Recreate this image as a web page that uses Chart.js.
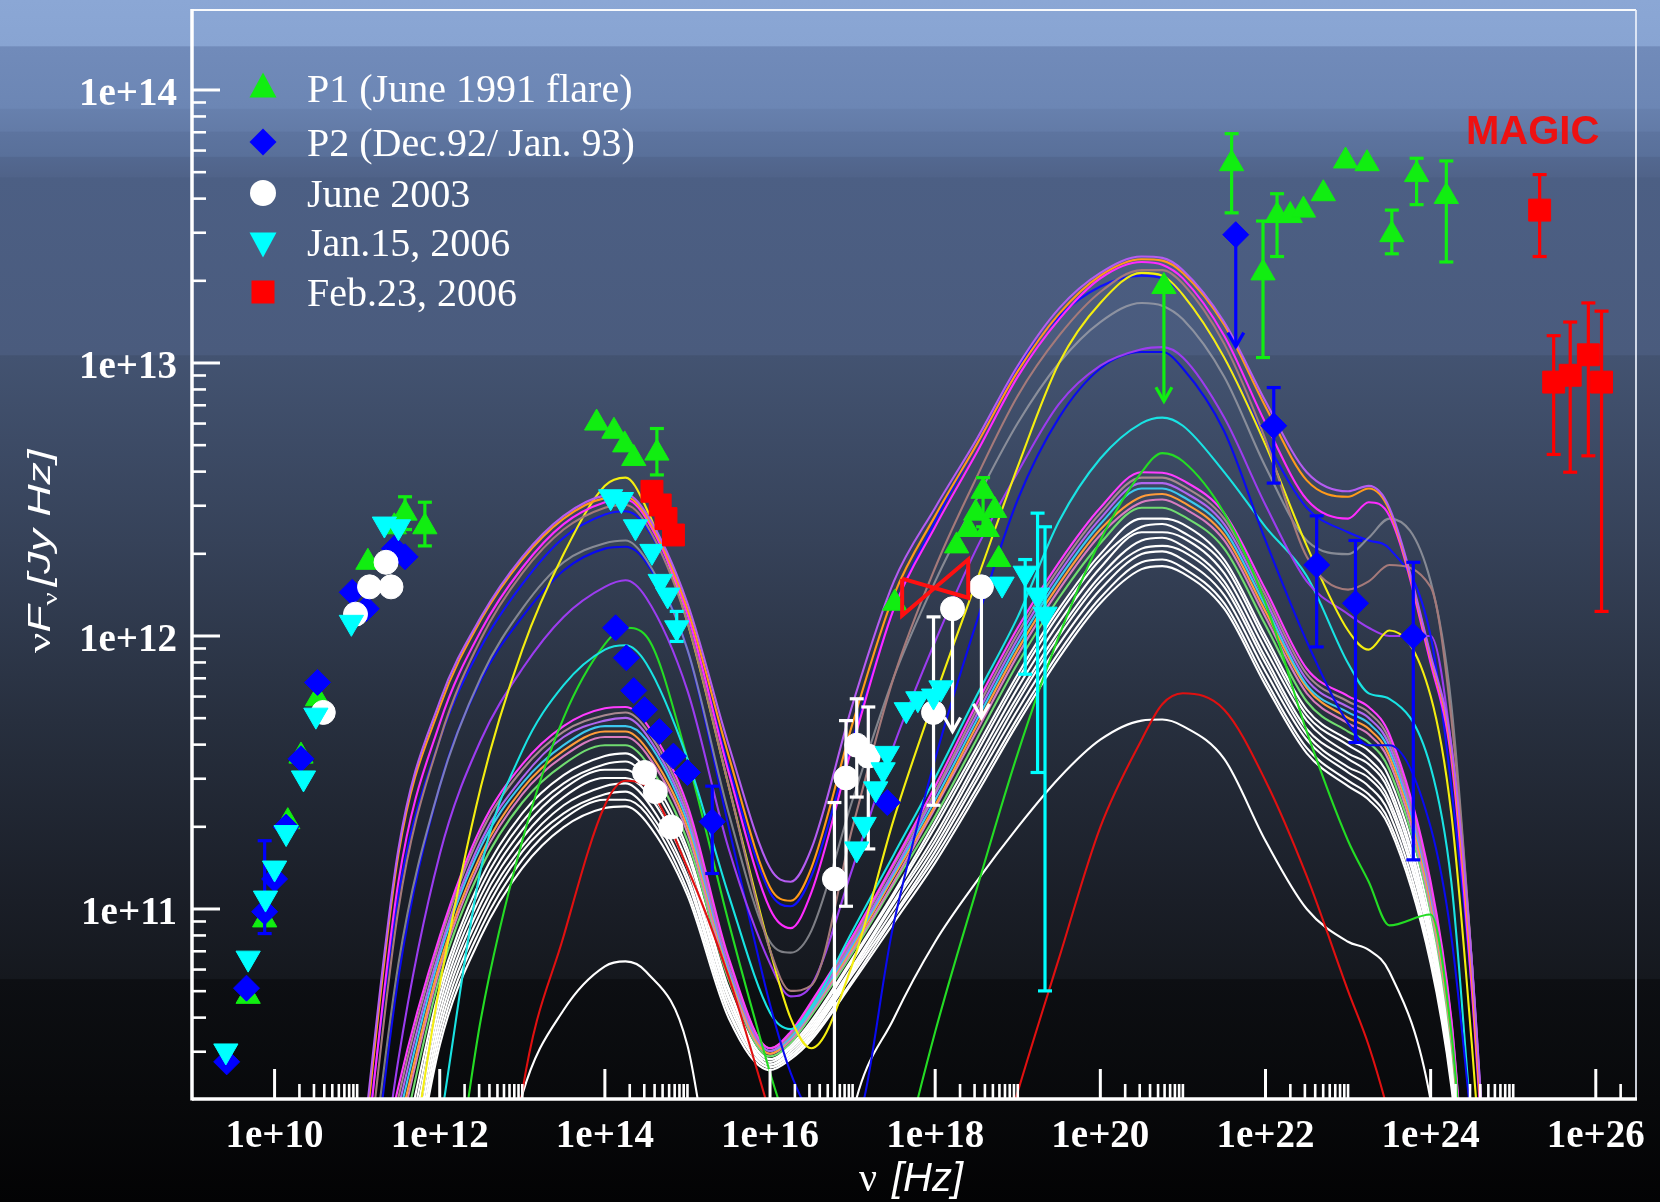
<!DOCTYPE html>
<html>
<head>
<meta charset="utf-8">
<script src="https://cdn.jsdelivr.net/npm/chart.js@4/dist/chart.umd.min.js"></script>
<style>
  html, body { margin: 0; padding: 0; background: #000; }
  canvas { display: block; }
</style>
</head>
<body>
<canvas id="sed" width="1660" height="1202"></canvas>
<script>
// ---------------------------------------------------------------------------
// Axis ticks (decades that carry a label)
const xTickExp = [10, 12, 14, 16, 18, 20, 22, 24, 26];
const yTickExp = [11, 12, 13, 14];
const xRangeLog = [9.0, 26.487];
const yRangeLog = [10.304, 14.293];

// ---------------------------------------------------------------------------
// Model SED curves: log10(nu) grid and log10(nu F_nu) for each model
const logNuGrid = [11.0, 11.5, 12.0, 12.5, 13.0, 13.5, 14.0, 14.25, 14.5, 15.0,
  15.5, 16.0, 16.25, 16.5, 17.0, 17.5, 18.0, 18.5, 19.0, 19.5,
  20.0, 20.5, 20.75, 21.0, 21.5, 22.0, 22.5, 23.0, 23.25, 23.5,
  24.0, 24.25, 24.5, 24.75];

const modelPurpleTop = [9.95, 11.22, 11.76, 12.07, 12.29, 12.44, 12.515, 12.52, 12.45, 12.12,
  11.6, 11.15, 11.1, 11.22, 11.75, 12.2, 12.47, 12.72, 12.99, 13.2,
  13.33, 13.39, 13.385, 13.34, 13.15, 12.86, 12.6, 12.53, 12.55, 12.47,
  11.93, 11.6, 10.8, 9.6];
const modelOrange = [9.9, 11.2, 11.74, 12.06, 12.28, 12.43, 12.505, 12.51, 12.44, 12.1,
  11.56, 11.08, 11.03, 11.15, 11.68, 12.15, 12.44, 12.7, 12.97, 13.18,
  13.32, 13.38, 13.375, 13.33, 13.14, 12.84, 12.57, 12.51, 12.54, 12.46,
  11.92, 11.58, 10.75, 9.6];
const modelMagenta = [9.8, 11.1, 11.68, 12.02, 12.25, 12.41, 12.49, 12.5, 12.43, 12.08,
  11.5, 11.0, 10.93, 11.06, 11.6, 12.1, 12.4, 12.67, 12.95, 13.16,
  13.31, 13.37, 13.36, 13.31, 13.1, 12.78, 12.5, 12.43, 12.49, 12.44,
  11.9, 11.55, 10.7, 9.6];
const modelBrown = [9.7, 11.0, 11.62, 11.99, 12.23, 12.39, 12.47, 12.48, 12.41, 12.05,
  11.45, 10.85, 10.7, 10.72, 11.3, 11.85, 12.25, 12.58, 12.88, 13.1,
  13.26, 13.34, 13.34, 13.29, 13.07, 12.72, 12.29, 12.17, 12.2, 12.26,
  12.18, 11.7, 10.8, 9.6];
const modelGray = [9.6, 10.8, 11.45, 11.85, 12.1, 12.27, 12.34, 12.35, 12.28, 11.95,
  11.35, 10.88, 10.84, 10.92, 11.4, 11.85, 12.2, 12.5, 12.78, 13.0,
  13.15, 13.22, 13.21, 13.16, 12.95, 12.62, 12.35, 12.3, 12.36, 12.43,
  12.2, 11.75, 10.8, 9.6];
const modelYellow = [9.3, 9.8, 10.72, 11.45, 11.95, 12.3, 12.55, 12.58, 12.47, 12.05,
  11.45, 10.85, 10.6, 10.49, 10.8, 11.33, 11.78, 12.2, 12.62, 13.0,
  13.22, 13.33, 13.32, 13.25, 13.02, 12.7, 12.33, 12.02, 11.95, 12.02,
  11.78, 11.35, 10.5, 9.5];
const modelBlueA = [9.85, 11.05, 11.62, 11.96, 12.19, 12.36, 12.445, 12.457, 12.4, 12.07,
  11.52, 11.06, 11.01, 11.12, 11.62, 12.1, 12.42, 12.7, 12.98, 13.17,
  13.28, 13.32, 13.31, 13.25, 13.02, 12.72, 12.47, 12.38, 12.35, 12.32,
  12.0, 11.45, 10.7, 9.6];
const modelBlueB = [9.5, 10.75, 11.45, 11.84, 12.07, 12.24, 12.32, 12.327, 12.27, 11.95,
  11.3, 10.65, 10.4, 10.25, 10.2, 10.95, 11.55, 12.05, 12.5, 12.8,
  12.98, 13.04, 13.04, 12.98, 12.75, 12.35, 11.98, 11.68, 11.6, 11.6,
  11.3, 10.9, 10.2, 9.5];
const modelPurpleMid = [9.3, 10.45, 11.2, 11.62, 11.88, 12.07, 12.18, 12.204, 12.14, 11.8,
  11.22, 10.8, 10.68, 10.72, 11.15, 11.6, 11.98, 12.32, 12.6, 12.85,
  12.99, 13.05, 13.058, 13.02, 12.8, 12.48, 12.2, 12.08, 12.03, 12.0,
  12.0, 11.6, 10.8, 9.6];
const modelCyan = [9.0, 9.3, 10.2, 11.15, 11.58, 11.82, 11.95, 11.966, 11.9, 11.55,
  11.05, 10.62, 10.56, 10.64, 10.92, 11.2, 11.48, 11.78, 12.07, 12.42,
  12.65, 12.78, 12.8, 12.77, 12.6, 12.4, 12.22, 11.9, 11.79, 11.77,
  11.52, 11.1, 10.2, 9.5];
const modelGreen = [9.0, 9.0, 9.6, 10.6, 11.25, 11.7, 11.97, 12.03, 12.0, 11.55,
  10.95, 10.4, 10.15, 9.8, 9.3, 9.95, 10.55, 11.07, 11.57, 12.0,
  12.35, 12.6, 12.67, 12.64, 12.45, 12.12, 11.65, 11.25, 11.1, 10.94,
  10.98, 10.55, 9.7, 9.3];
const modelRed = [9.0, 9.0, 9.0, 9.0, 10.33, 10.9, 11.38, 11.47, 11.45, 11.15,
  10.75, 10.25, 10.0, 9.7, 9.3, 9.0, 9.2, 9.8, 10.33, 10.82,
  11.3, 11.62, 11.75, 11.79, 11.73, 11.47, 11.12, 10.7, 10.5, 10.24,
  9.6, 9.3, 9.0, 9.0];
const modelLowWhite = [9.0, 9.0, 9.0, 9.6, 10.32, 10.63, 10.79, 10.808, 10.77, 10.5,
  9.6, 9.3, 9.3, 9.3, 10.25, 10.6, 10.88, 11.1, 11.3, 11.48,
  11.62, 11.69, 11.694, 11.67, 11.55, 11.25, 11.0, 10.88, 10.85, 10.77,
  10.3, 9.7, 9.3, 9.0];

// the low-state family of models
const lowTop = [9.6, 10.35, 10.9, 11.3, 11.53, 11.67, 11.735, 11.74, 11.68, 11.38,
  10.82, 10.49, 10.55, 10.66, 10.9, 11.17, 11.45, 11.75, 12.03, 12.27,
  12.47, 12.6, 12.598, 12.57, 12.45, 12.17, 11.88, 11.78, 11.74, 11.64,
  11.1, 10.6, 9.7, 9.3];
const low01 = [9.5, 10.31, 10.88, 11.28, 11.51, 11.65, 11.71, 11.72, 11.66, 11.36,
  10.81, 10.49, 10.54, 10.65, 10.89, 11.16, 11.43, 11.73, 12.01, 12.25,
  12.45, 12.58, 12.58, 12.55, 12.43, 12.15, 11.86, 11.76, 11.72, 11.62,
  11.08, 10.59, 9.7, 9.3];
const low02 = [9.5, 10.27, 10.85, 11.25, 11.48, 11.63, 11.69, 11.70, 11.64, 11.34,
  10.79, 10.48, 10.54, 10.64, 10.88, 11.14, 11.42, 11.71, 11.99, 12.23,
  12.43, 12.56, 12.56, 12.53, 12.41, 12.13, 11.84, 11.74, 11.70, 11.60,
  11.06, 10.57, 9.7, 9.3];
const low03 = [9.5, 10.23, 10.83, 11.23, 11.46, 11.60, 11.67, 11.67, 11.62, 11.32,
  10.78, 10.48, 10.53, 10.63, 10.87, 11.13, 11.40, 11.69, 11.97, 12.21,
  12.41, 12.54, 12.54, 12.51, 12.39, 12.11, 11.82, 11.72, 11.68, 11.58,
  11.05, 10.56, 9.7, 9.3];
const low04 = [9.5, 10.19, 10.80, 11.20, 11.44, 11.58, 11.65, 11.65, 11.59, 11.30,
  10.77, 10.47, 10.53, 10.63, 10.86, 11.12, 11.38, 11.67, 11.95, 12.19,
  12.39, 12.51, 12.52, 12.49, 12.37, 12.09, 11.81, 11.70, 11.66, 11.56,
  11.03, 10.54, 9.7, 9.3];
const low05 = [9.5, 10.16, 10.78, 11.18, 11.42, 11.56, 11.63, 11.63, 11.57, 11.28,
  10.75, 10.47, 10.52, 10.62, 10.85, 11.10, 11.37, 11.65, 11.93, 12.17,
  12.37, 12.49, 12.50, 12.47, 12.35, 12.07, 11.79, 11.68, 11.64, 11.54,
  11.01, 10.53, 9.7, 9.3];
const low06 = [9.5, 10.10, 10.75, 11.15, 11.39, 11.53, 11.60, 11.60, 11.54, 11.25,
  10.74, 10.46, 10.51, 10.61, 10.84, 11.09, 11.34, 11.62, 11.90, 12.14,
  12.34, 12.47, 12.47, 12.44, 12.32, 12.04, 11.76, 11.65, 11.61, 11.51,
  10.99, 10.51, 9.7, 9.3];
const lowW1 = [9.5, 10.04, 10.71, 11.11, 11.35, 11.49, 11.56, 11.57, 11.51, 11.22,
  10.71, 10.45, 10.50, 10.59, 10.82, 11.06, 11.32, 11.59, 11.86, 12.10,
  12.30, 12.43, 12.43, 12.41, 12.28, 12.00, 11.73, 11.62, 11.58, 11.48,
  10.96, 10.48, 9.7, 9.3];
const lowW2 = [9.5, 9.99, 10.68, 11.08, 11.32, 11.46, 11.53, 11.54, 11.48, 11.20,
  10.70, 10.45, 10.49, 10.58, 10.81, 11.05, 11.30, 11.57, 11.84, 12.08,
  12.28, 12.40, 12.41, 12.38, 12.26, 11.98, 11.71, 11.60, 11.55, 11.45,
  10.93, 10.46, 9.7, 9.3];
const lowW3 = [9.5, 9.94, 10.65, 11.05, 11.29, 11.44, 11.51, 11.51, 11.45, 11.17,
  10.68, 10.44, 10.49, 10.57, 10.79, 11.03, 11.27, 11.54, 11.81, 12.05,
  12.25, 12.38, 12.38, 12.36, 12.23, 11.95, 11.69, 11.57, 11.53, 11.43,
  10.91, 10.44, 9.7, 9.3];
const lowW4 = [9.5, 9.89, 10.62, 11.02, 11.26, 11.41, 11.48, 11.48, 11.43, 11.15,
  10.67, 10.43, 10.48, 10.56, 10.78, 11.02, 11.25, 11.52, 11.78, 12.02,
  12.22, 12.35, 12.36, 12.33, 12.20, 11.92, 11.66, 11.55, 11.50, 11.40,
  10.89, 10.42, 9.7, 9.3];
const lowW5 = [9.5, 9.84, 10.59, 10.99, 11.23, 11.38, 11.45, 11.46, 11.40, 11.12,
  10.65, 10.43, 10.47, 10.55, 10.77, 11.00, 11.23, 11.49, 11.76, 12.00,
  12.20, 12.32, 12.33, 12.31, 12.18, 11.90, 11.64, 11.52, 11.48, 11.38,
  10.87, 10.41, 9.7, 9.3];
const lowW6 = [9.5, 9.79, 10.56, 10.96, 11.21, 11.35, 11.42, 11.43, 11.37, 11.10,
  10.63, 10.42, 10.46, 10.54, 10.76, 10.98, 11.21, 11.47, 11.73, 11.97,
  12.17, 12.30, 12.31, 12.28, 12.15, 11.87, 11.62, 11.50, 11.45, 11.35,
  10.84, 10.39, 9.7, 9.3];
const lowW7 = [9.5, 9.75, 10.53, 10.93, 11.18, 11.33, 11.40, 11.40, 11.35, 11.07,
  10.62, 10.42, 10.46, 10.53, 10.74, 10.97, 11.19, 11.44, 11.70, 11.94,
  12.14, 12.27, 12.28, 12.25, 12.12, 11.84, 11.59, 11.47, 11.42, 11.32,
  10.82, 10.37, 9.7, 9.3];
const lowBottom = [9.0, 9.7, 10.5, 10.9, 11.15, 11.3, 11.37, 11.376, 11.32, 11.05,
  10.6, 10.41, 10.45, 10.52, 10.73, 10.95, 11.17, 11.42, 11.68, 11.92,
  12.12, 12.245, 12.256, 12.23, 12.1, 11.82, 11.57, 11.45, 11.4, 11.3,
  10.8, 10.35, 9.6, 9.3];

// ---------------------------------------------------------------------------
// Observations, log10(nu / Hz) and log10(nu F_nu / Jy Hz)
// P1 (June 1991 flare)
const p1LogNu = [9.68, 9.88, 10.16, 10.32, 10.52, 11.13, 11.45, 11.58, 11.82, 13.90,
  14.11, 14.24, 14.35, 14.63, 17.51, 18.26, 18.40, 18.49, 18.58, 18.63,
  18.72, 18.77, 20.77, 21.59, 21.97, 22.14, 22.30, 22.46, 22.70, 22.97,
  23.23, 23.53, 23.83, 24.19];
const p1LogFlux = [10.68, 10.96, 11.32, 11.56, 11.77, 12.27, 12.40, 12.45, 12.40, 12.78,
  12.75, 12.70, 12.65, 12.67, 12.12, 12.33, 12.39, 12.45, 12.53, 12.39,
  12.46, 12.28, 13.28, 13.73, 13.33, 13.54, 13.54, 13.56, 13.62, 13.74,
  13.73, 13.47, 13.69, 13.61];
const p1BarNu = [11.58, 11.82, 14.63, 18.58, 21.59, 21.97, 22.14, 23.53, 23.83, 24.19];
const p1BarLo = [12.39, 12.33, 12.59, 12.40, 13.55, 13.02, 13.39, 13.40, 13.58, 13.37];
const p1BarHi = [12.51, 12.49, 12.76, 12.58, 13.84, 13.52, 13.62, 13.56, 13.75, 13.74];
const p1LimNu = [20.77];
const p1LimTop = [13.28];
const p1LimEnd = [12.86];

// P2 (Dec.92/ Jan. 93)
const p2LogNu = [9.42, 9.66, 9.88, 10.0, 10.14, 10.32, 10.52, 10.94, 11.11, 11.45,
  11.58, 14.13, 14.26, 14.35, 14.48, 14.66, 14.83, 15.0, 15.30, 17.42,
  21.64, 22.10, 22.62, 23.09, 23.79];
const p2LogFlux = [10.44, 10.71, 10.99, 11.11, 11.30, 11.55, 11.83, 12.16, 12.10, 12.32,
  12.29, 12.03, 11.92, 11.80, 11.73, 11.65, 11.56, 11.50, 11.32, 11.39,
  13.47, 12.77, 12.26, 12.12, 12.0];
const p2BarNu = [9.88, 15.30, 22.10, 22.62, 23.09, 23.79];
const p2BarLo = [10.91, 11.13, 12.56, 11.96, 11.61, 11.18];
const p2BarHi = [11.25, 11.45, 12.91, 12.44, 12.35, 12.27];
const p2LimNu = [21.64];
const p2LimTop = [13.47];
const p2LimEnd = [13.06];

// June 2003
const j03LogNu = [10.59, 10.98, 11.15, 11.35, 11.41, 14.48, 14.61, 14.80, 16.78, 16.92,
  17.05, 17.19, 17.98, 18.21, 18.56];
const j03LogFlux = [11.72, 12.08, 12.18, 12.27, 12.18, 11.50, 11.43, 11.30, 11.11, 11.48,
  11.60, 11.56, 11.72, 12.10, 12.18];
const j03BarNu = [16.78, 16.92, 17.05, 17.19, 17.98];
const j03BarLo = [9.9, 11.01, 11.41, 11.22, 11.38];
const j03BarHi = [11.39, 11.69, 11.77, 11.74, 12.07];
const j03LimNu = [18.21, 18.56];
const j03LimTop = [12.10, 12.18];
const j03LimEnd = [11.65, 11.70];

// Jan.15, 2006
const j06LogNu = [9.41, 9.68, 9.89, 10.0, 10.14, 10.35, 10.50, 10.93, 11.33, 11.50,
  14.07, 14.20, 14.37, 14.57, 14.67, 14.76, 14.87, 17.05, 17.14, 17.28,
  17.37, 17.42, 17.65, 17.79, 17.98, 18.07, 18.81, 19.09, 19.24, 19.33];
const j06LogFlux = [10.48, 10.82, 11.04, 11.15, 11.28, 11.48, 11.71, 12.05, 12.41, 12.40,
  12.51, 12.50, 12.40, 12.31, 12.20, 12.15, 12.03, 11.22, 11.31, 11.44,
  11.51, 11.57, 11.73, 11.77, 11.78, 11.81, 12.19, 12.23, 12.15, 12.08];
const j06BarNu = [14.87, 19.09, 19.24, 19.33];
const j06BarLo = [11.98, 11.86, 11.50, 10.70];
const j06BarHi = [12.09, 12.28, 12.45, 12.40];

// Feb.23, 2006 (optical and MAGIC)
const f06LogNu = [14.57, 14.67, 14.74, 14.83, 25.32, 25.49, 25.69, 25.91, 26.07];
const f06LogFlux = [12.53, 12.48, 12.43, 12.37, 13.56, 12.93, 12.955, 13.03, 12.93];
const f06BarNu = [25.32, 25.49, 25.69, 25.91, 26.07];
const f06BarLo = [13.39, 12.665, 12.60, 12.66, 12.09];
const f06BarHi = [13.69, 13.10, 13.15, 13.22, 13.19];

// Feb.23, 2006 X-ray spectrum (bow-tie outline)
const bowLogNu = [17.6, 18.4, 18.4, 17.6, 17.6];
const bowLogFlux = [12.21, 12.14, 12.28, 12.075, 12.21];

// ---------------------------------------------------------------------------
const pts = (lx, ly) => lx.map((x, i) => ({ x: 10 ** x, y: 10 ** ly[i] }));

// curve styling; the first entries end up on top
const curveStyles = [
  [modelPurpleTop, '#b55cf2'], [modelOrange, '#ff9a1a'], [modelMagenta, '#ff2bff'],
  [modelBrown, '#a57a7a'], [modelYellow, '#f4ee10'], [modelGray, 'rgba(170,170,175,0.7)'],
  [modelBlueA, '#1010ff'], [modelPurpleMid, '#9c3cf0'], [modelBlueB, '#0a0af0'],
  [modelCyan, '#19e3e3'], [modelGreen, '#24dc24'], [modelRed, '#e01010'],
  [modelLowWhite, '#ffffff'],
  [lowTop, '#ff3cff'], [low01, '#a88890'], [low02, '#b066f0'], [low03, '#3cc8ef'],
  [low04, '#ff9c3a'], [low05, '#d87cc0'], [low06, '#70dc70'],
  [lowW1, '#ffffff'], [lowW2, '#ffffff'], [lowW3, '#ffffff'], [lowW4, '#ffffff'],
  [lowW5, '#ffffff'], [lowW6, '#ffffff'], [lowW7, '#ffffff'], [lowBottom, '#ffffff']
];

const curveSets = curveStyles.map(([arr, color], k) => ({
  data: pts(logNuGrid, arr),
  showLine: true,
  borderColor: color,
  borderWidth: 2.1,
  pointRadius: 0,
  cubicInterpolationMode: 'monotone',
  clip: 0,
  order: 10 + k
}));

const markerSet = (label, lx, ly, color, style, radius, rotation, order, bars, limits) => ({
  label, data: pts(lx, ly), showLine: false,
  backgroundColor: color, borderColor: color, borderWidth: 1,
  pointStyle: style, pointRadius: radius, pointRotation: rotation,
  order, bars, limits, legendMarker: true
});

const pointSets = [
  markerSet('P1 (June 1991 flare)', p1LogNu, p1LogFlux, '#11ee11', 'triangle', 14, 0, 4,
    { nu: p1BarNu, lo: p1BarLo, hi: p1BarHi }, { nu: p1LimNu, top: p1LimTop, end: p1LimEnd }),
  markerSet('P2 (Dec.92/ Jan. 93)', p2LogNu, p2LogFlux, '#0000ff', 'rectRot', 13, 0, 3,
    { nu: p2BarNu, lo: p2BarLo, hi: p2BarHi }, { nu: p2LimNu, top: p2LimTop, end: p2LimEnd }),
  markerSet('June 2003', j03LogNu, j03LogFlux, '#ffffff', 'circle', 12, 0, 2,
    { nu: j03BarNu, lo: j03BarLo, hi: j03BarHi }, { nu: j03LimNu, top: j03LimTop, end: j03LimEnd }),
  markerSet('Jan.15, 2006', j06LogNu, j06LogFlux, '#00ffff', 'triangle', 14, 180, 1,
    { nu: j06BarNu, lo: j06BarLo, hi: j06BarHi }, null),
  markerSet('Feb.23, 2006', f06LogNu, f06LogFlux, '#ff0000', 'rect', 15.5, 0, 0,
    { nu: f06BarNu, lo: f06BarLo, hi: f06BarHi }, null)
];

const bowSet = {
  data: pts(bowLogNu, bowLogFlux), showLine: true, tension: 0,
  borderColor: '#ff1010', borderWidth: 4, pointRadius: 0, order: 0, clip: 0
};

// ---------------------------------------------------------------------------
const BG_STOPS = [
  [0.000, '#8ba7d5'], [0.038, '#88a4d2'], [0.039, '#718bba'], [0.090, '#6c86b4'],
  [0.091, '#6780ad'], [0.109, '#637ba7'], [0.110, '#5d749f'], [0.130, '#59709a'],
  [0.131, '#536890'], [0.147, '#506389'], [0.148, '#4c5f84'], [0.295, '#4a5b7d'],
  [0.296, '#435371'], [0.450, '#364259'], [0.600, '#272f3e'], [0.750, '#1a1e27'],
  [0.814, '#15181e'], [0.815, '#0d0f13'], [0.915, '#08090b'], [1.000, '#030304']
];

const backdrop = {
  id: 'backdrop',
  beforeDraw(chart) {
    const { ctx, width, height } = chart;
    const g = ctx.createLinearGradient(0, 0, 0, height);
    BG_STOPS.forEach(([o, c]) => g.addColorStop(o, c));
    ctx.save();
    ctx.fillStyle = g;
    ctx.fillRect(0, 0, width, height);
    ctx.restore();
  }
};

function seg(ctx, x1, y1, x2, y2) {
  ctx.beginPath(); ctx.moveTo(x1, y1); ctx.lineTo(x2, y2); ctx.stroke();
}

// error bars and upper-limit arrows, drawn just before each marker series
const errorBars = {
  id: 'errorBars',
  beforeDatasetDraw(chart, args) {
    const ds = chart.data.datasets[args.index];
    if (!ds.bars && !ds.limits) return;
    const { ctx, chartArea: a } = chart;
    const xs = chart.scales.x, ys = chart.scales.y;
    ctx.save();
    ctx.beginPath();
    ctx.rect(a.left, a.top, a.right - a.left, a.bottom - a.top);
    ctx.clip();
    ctx.strokeStyle = ds.borderColor;
    ctx.lineWidth = 3.2;
    if (ds.bars) {
      ds.bars.nu.forEach((n, i) => {
        const x = xs.getPixelForValue(10 ** n);
        const y1 = ys.getPixelForValue(10 ** ds.bars.lo[i]);
        const y2 = ys.getPixelForValue(10 ** ds.bars.hi[i]);
        seg(ctx, x, y1, x, y2);
        seg(ctx, x - 7, y1, x + 7, y1);
        seg(ctx, x - 7, y2, x + 7, y2);
      });
    }
    if (ds.limits) {
      ds.limits.nu.forEach((n, i) => {
        const x = xs.getPixelForValue(10 ** n);
        const yT = ys.getPixelForValue(10 ** ds.limits.top[i]);
        const yE = ys.getPixelForValue(10 ** ds.limits.end[i]);
        seg(ctx, x, yT, x, yE);
        ctx.beginPath();
        ctx.moveTo(x - 8, yE - 14); ctx.lineTo(x, yE); ctx.lineTo(x + 8, yE - 14);
        ctx.stroke();
      });
    }
    ctx.restore();
  }
};

function drawMarker(ctx, style, x, y, r, color) {
  ctx.fillStyle = color;
  ctx.beginPath();
  if (style === 'up') {
    ctx.moveTo(x, y - r); ctx.lineTo(x + r * 0.87, y + r * 0.62); ctx.lineTo(x - r * 0.87, y + r * 0.62);
  } else if (style === 'down') {
    ctx.moveTo(x, y + r); ctx.lineTo(x + r * 0.87, y - r * 0.62); ctx.lineTo(x - r * 0.87, y - r * 0.62);
  } else if (style === 'diamond') {
    ctx.moveTo(x, y - r); ctx.lineTo(x + r, y); ctx.lineTo(x, y + r); ctx.lineTo(x - r, y);
  } else if (style === 'circle') {
    ctx.arc(x, y, r, 0, Math.PI * 2);
  } else {
    ctx.rect(x - r, y - r, 2 * r, 2 * r);
  }
  ctx.closePath();
  ctx.fill();
}

const frameAndText = {
  id: 'frameAndText',
  afterDraw(chart) {
    const { ctx, chartArea: a } = chart;
    const xs = chart.scales.x, ys = chart.scales.y;
    ctx.save();

    // inner tick marks
    ctx.strokeStyle = '#ffffff';
    xTickExp.forEach(k => {
      ctx.lineWidth = 3;
      const px = xs.getPixelForValue(10 ** k);
      seg(ctx, px, a.bottom, px, a.bottom - 30);
      ctx.lineWidth = 2.6;
      for (let m = 2; m <= 10; m++) {
        if (Math.log10(m) + k > xRangeLog[1] - 0.03) continue;
        const q = xs.getPixelForValue(m * 10 ** k);
        seg(ctx, q, a.bottom, q, a.bottom - 15);
      }
    });
    for (let k = 10; k <= 14; k++) {
      for (let m = 1; m <= 9; m++) {
        const lv = Math.log10(m) + k;
        if (lv < yRangeLog[0] || lv > yRangeLog[1]) continue;
        const py = ys.getPixelForValue(m * 10 ** k);
        ctx.lineWidth = m === 1 ? 3 : 2.6;
        seg(ctx, a.left, py, a.left + (m === 1 ? 28 : 14), py);
      }
    }

    // frame
    ctx.lineWidth = 2;
    ctx.strokeStyle = 'rgba(255,255,255,0.95)';
    seg(ctx, a.left, a.top, a.right, a.top);
    ctx.strokeStyle = 'rgba(235,240,250,0.85)';
    seg(ctx, a.right, a.top, a.right, a.bottom);
    ctx.strokeStyle = '#ffffff';
    ctx.lineWidth = 3.5;
    seg(ctx, a.left, a.top - 1, a.left, a.bottom + 1.5);
    seg(ctx, a.left, a.bottom, a.right + 1, a.bottom);

    // tick labels
    ctx.fillStyle = '#ffffff';
    ctx.font = 'bold 39px "Liberation Serif"';
    ctx.textBaseline = 'alphabetic';
    ctx.textAlign = 'center';
    xTickExp.forEach(k => {
      ctx.fillText('1e+' + k, xs.getPixelForValue(10 ** k), 1147);
    });
    ctx.textAlign = 'right';
    yTickExp.forEach(k => {
      ctx.fillText('1e+' + k, 177, ys.getPixelForValue(10 ** k) + 15);
    });

    // axis titles
    ctx.textAlign = 'left';
    ctx.font = '40px "Liberation Serif"';
    ctx.fillText('ν', 859, 1191);
    ctx.font = 'italic 40px "Liberation Sans"';
    ctx.fillText('[Hz]', 892, 1191);

    ctx.save();
    ctx.translate(50, 653);
    ctx.rotate(-Math.PI / 2);
    ctx.scale(1.4, 1);
    let tx = 0;
    ctx.font = '32px "Liberation Serif"';
    ctx.fillText('ν', tx, 0); tx += ctx.measureText('ν').width;
    ctx.font = 'italic 32px "Liberation Sans"';
    ctx.fillText('F', tx, 0); tx += ctx.measureText('F').width;
    ctx.font = '21px "Liberation Serif"';
    ctx.fillText('ν', tx, 7); tx += ctx.measureText('ν').width + 4;
    ctx.font = 'italic 32px "Liberation Sans"';
    ctx.fillText('[Jy Hz]', tx, 0);
    ctx.restore();

    // instrument tag
    ctx.fillStyle = '#ee1111';
    ctx.font = 'bold 40px "Liberation Sans"';
    ctx.fillText('MAGIC', 1466, 144);

    // legend
    const rows = [88, 142, 193, 242, 292];
    const shapes = ['up', 'diamond', 'circle', 'down', 'square'];
    const sizes = [15.5, 13.5, 13, 15.5, 11.5];
    const markerSets = chart.data.datasets.filter(d => d.legendMarker);
    markerSets.forEach((d, i) => {
      drawMarker(ctx, shapes[i], 263, rows[i], sizes[i], d.backgroundColor);
      ctx.fillStyle = '#ffffff';
      ctx.font = '40px "Liberation Serif"';
      ctx.textAlign = 'left';
      ctx.fillText(d.label, 307, rows[i] + 14);
    });
    ctx.restore();
  }
};

new Chart(document.getElementById('sed'), {
  type: 'scatter',
  data: { datasets: [...pointSets, bowSet, ...curveSets] },
  options: {
    responsive: false,
    animation: false,
    devicePixelRatio: 1,
    events: [],
    layout: { autoPadding: false, padding: { top: 10, right: 24, left: 0, bottom: 0 } },
    plugins: { legend: { display: false }, tooltip: { enabled: false } },
    scales: {
      x: {
        type: 'logarithmic',
        min: 10 ** xRangeLog[0], max: 10 ** xRangeLog[1],
        grid: { display: false, drawTicks: false },
        border: { display: false },
        ticks: { display: false },
        afterFit(s) { s.height = 103; }
      },
      y: {
        type: 'logarithmic',
        min: 10 ** yRangeLog[0], max: 10 ** yRangeLog[1],
        grid: { display: false, drawTicks: false },
        border: { display: false },
        ticks: { display: false },
        afterFit(s) { s.width = 192; }
      }
    }
  },
  plugins: [backdrop, errorBars, frameAndText]
});
</script>
</body>
</html>
